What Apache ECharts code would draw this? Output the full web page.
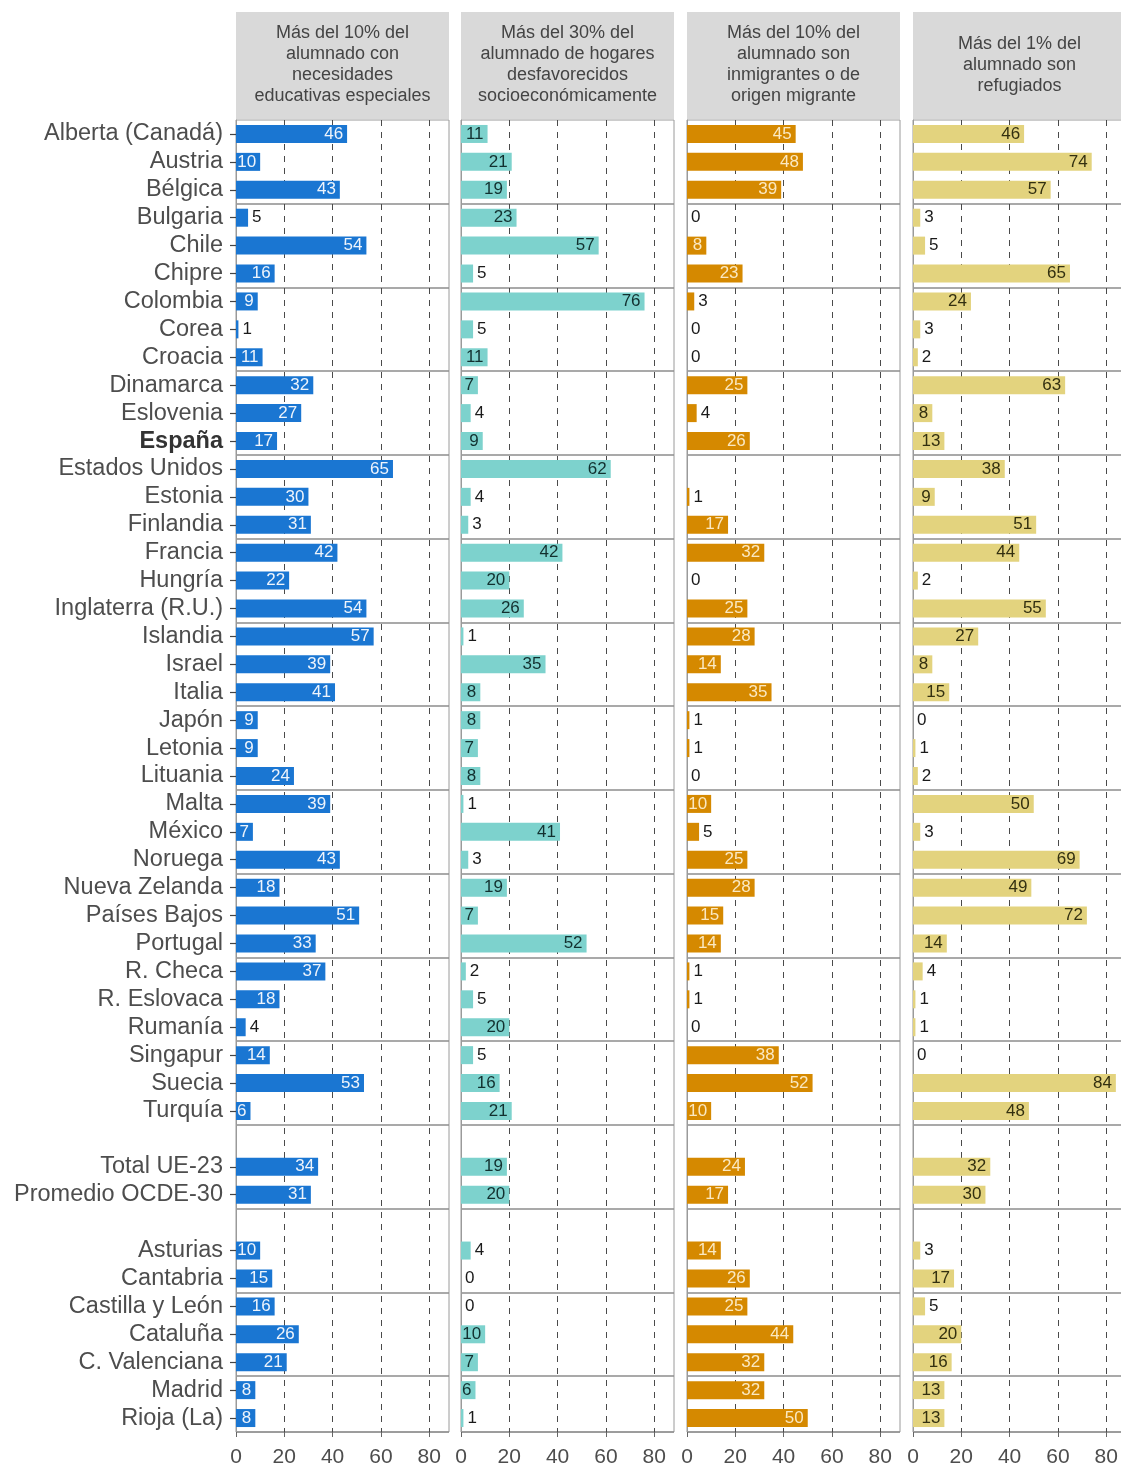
<!DOCTYPE html>
<html>
<head>
<meta charset="utf-8">
<title>Centros con alumnado diverso</title>
<script src="https://cdn.jsdelivr.net/npm/echarts@6/dist/echarts.min.js"></script>
<style>
html, body {margin: 0; padding: 0; background: #fff;}
#chartDiv {width: 1121px; height: 1465px;}
</style>
</head>
<body>
<div id="chartDiv"></div>
<script>
// 初始化图表
let myChart = echarts.init(document.getElementById('chartDiv'));

// 数据集 (filas vacías con espacios distintos)
const categories = ['Alberta (Canadá)', 'Austria', 'Bélgica', 'Bulgaria', 'Chile', 'Chipre',
	'Colombia', 'Corea', 'Croacia', 'Dinamarca', 'Eslovenia', 'España', 'Estados Unidos',
	'Estonia', 'Finlandia', 'Francia', 'Hungría', 'Inglaterra (R.U.)', 'Islandia', 'Israel',
	'Italia', 'Japón', 'Letonia', 'Lituania', 'Malta', 'México', 'Noruega', 'Nueva Zelanda',
	'Países Bajos', 'Portugal', 'R. Checa', 'R. Eslovaca', 'Rumanía', 'Singapur', 'Suecia',
	'Turquía', ' ', 'Total UE-23', 'Promedio OCDE-30', '  ', 'Asturias', 'Cantabria',
	'Castilla y León', 'Cataluña', 'C. Valenciana', 'Madrid', 'Rioja (La)'];

const nee = [46, 10, 43, 5, 54, 16, 9, 1, 11, 32, 27, 17, 65, 30, 31, 42, 22, 54, 57, 39, 41,
	9, 9, 24, 39, 7, 43, 18, 51, 33, 37, 18, 4, 14, 53, 6, null, 34, 31, null, 10, 15, 16, 26, 21, 8, 8];
const desfavorecidos = [11, 21, 19, 23, 57, 5, 76, 5, 11, 7, 4, 9, 62, 4, 3, 42, 20, 26, 1, 35, 8,
	8, 7, 8, 1, 41, 3, 19, 7, 52, 2, 5, 20, 5, 16, 21, null, 19, 20, null, 4, 0, 0, 10, 7, 6, 1];
const inmigrantes = [45, 48, 39, 0, 8, 23, 3, 0, 0, 25, 4, 26, null, 1, 17, 32, 0, 25, 28, 14, 35,
	1, 1, 0, 10, 5, 25, 28, 15, 14, 1, 1, 0, 38, 52, 10, null, 24, 17, null, 14, 26, 25, 44, 32, 32, 50];
const refugiados = [46, 74, 57, 3, 5, 65, 24, 3, 2, 63, 8, 13, 38, 9, 51, 44, 2, 55, 27, 8, 15,
	0, 1, 2, 50, 3, 69, 49, 72, 14, 4, 1, 1, 0, 84, 48, null, 32, 30, null, 3, 17, 5, 20, 16, 13, 13];

const panelTitles = [
	'Más del 10% del\nalumnado con\nnecesidades\neducativas especiales',
	'Más del 30% del\nalumnado de hogares\ndesfavorecidos\nsocioeconómicamente',
	'Más del 10% del\nalumnado son\ninmigrantes o de\norigen migrante',
	'Más del 1% del\nalumnado son\nrefugiados'
];
const xTicks = [0, 20, 40, 60, 80];

// 绘图设置
const panels = [nee, desfavorecidos, inmigrantes, refugiados];
const panelLeft = [236, 461, 687, 913];
const panelWidth = 213;
const plotTop = 120;
const plotHeight = 1312;
const barColors = ['#1a76d2', '#7dd2cd', '#d58900', '#e3d37e'];
const insideColors = ['#eef4fc', '#12302f', '#fbe9c2', '#333010'];
const font = '"Liberation Sans", Arial, sans-serif';

let option = {
	backgroundColor: '#fff',
	animation: false,
	textStyle: {fontFamily: font},
	grid: [],
	xAxis: [],
	yAxis: [],
	series: [],
	graphic: []
};

panels.forEach(function (values, i) {
	option.grid.push({
		left: panelLeft[i],
		top: plotTop,
		width: panelWidth,
		height: plotHeight,
		outerBoundsMode: 'none',
		containLabel: false,
		show: true,
		borderColor: '#9a9a9a',
		borderWidth: 1
	});
	option.xAxis.push({
		type: 'value',
		gridIndex: i,
		min: 0,
		max: 88.2,
		interval: 20,
		axisLine: {show: false},
		axisTick: {show: true, length: 5, customValues: xTicks, lineStyle: {color: '#666'}},
		axisLabel: {customValues: xTicks, fontSize: 21, color: '#4d4d4d', margin: 15},
		splitLine: {show: true, lineStyle: {type: [6, 6], color: '#4a4a4a', width: 1}}
	});
	option.yAxis.push({
		type: 'category',
		gridIndex: i,
		inverse: true,
		data: categories,
		axisLine: {show: true, lineStyle: {color: '#9a9a9a', width: 1}},
		axisTick: {
			show: i === 0,
			alignWithLabel: true,
			length: 6,
			// sin marca en las filas vacías
			interval: function (idx) { return idx !== 36 && idx !== 39; },
			lineStyle: {color: '#444', width: 1.2}
		},
		axisLabel: {
			show: i === 0,
			interval: 0,
			fontSize: 23.5,
			color: '#4d4d4d',
			margin: 13,
			formatter: function (val) {
				return val === 'España' ? '{b|' + val + '}' : val;
			},
			rich: {b: {fontSize: 23.5, fontWeight: 'bold', color: '#333'}}
		},
		splitLine: {
			show: true,
			interval: function (idx) { return idx > 0 && idx % 3 === 0; },
			lineStyle: {color: '#8c8c8c', width: 1.5}
		}
	});
	option.series.push({
		type: 'bar',
		xAxisIndex: i,
		yAxisIndex: i,
		barWidth: 18,
		z: 2,
		itemStyle: {color: barColors[i]},
		label: {show: true, fontSize: 17, formatter: '{c}'},
		data: values.map(function (v) {
			if (v === null) {
				return '-';
			}
			let inside = v >= 6;
			return {
				value: v,
				label: {
					position: inside ? 'insideRight' : 'right',
					distance: 4,
					color: inside ? insideColors[i] : '#1a1a1a'
				}
			};
		})
	});
	// 标题框
	option.graphic.push({
		type: 'rect',
		silent: true,
		shape: {x: panelLeft[i], y: 12, width: panelWidth, height: 107},
		style: {fill: '#d9d9d9'}
	});
	option.graphic.push({
		type: 'text',
		silent: true,
		x: panelLeft[i] + panelWidth / 2,
		y: 65,
		style: {
			text: panelTitles[i],
			align: 'center',
			verticalAlign: 'middle',
			fontSize: 18,
			lineHeight: 21,
			fontFamily: font,
			fill: '#444'
		}
	});
});

myChart.setOption(option);
</script>
</body>
</html>
